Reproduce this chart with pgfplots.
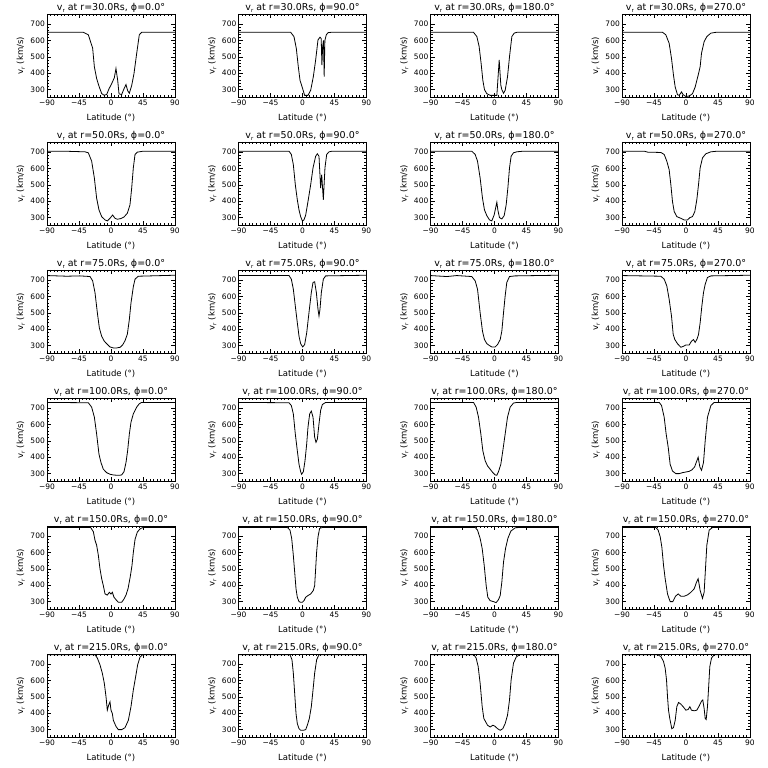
\documentclass[border=0pt]{standalone}
\usepackage{fontspec}
\setmainfont{DejaVu Sans}
\usepackage{pgfplots}
\pgfplotsset{compat=1.18}
\newcommand{\sub}[1]{\raisebox{-1.6pt}{\fontsize{5.5}{5.5}\selectfont #1}}
\pgfplotsset{panel/.style={
  scale only axis, width=128pt, height=83pt,
  xmin=-90,xmax=90,ymin=255,ymax=762,
  xtick={-90,-45,0,45,90}, xticklabels={−90,−45,0,45,90},
  ytick={300,400,500,600,700}, yticklabels={300,400,500,600,700},
  minor x tick num=8, minor y tick num=4,
  major tick length=4pt, minor tick length=2pt,
  every tick/.style={black, line width=0.6pt},
  axis line style={line width=0.8pt},
  tick label style={font=\fontsize{7.5}{7.5}\selectfont, inner sep=1pt},
  xticklabel style={yshift=-2pt},
  yticklabel style={xshift=-1pt},
  every axis title shift=0pt,
  title style={font=\fontsize{9.5}{9.5}\selectfont, at={(axis description cs:0.5,1.04)}, anchor=base, yshift=0pt, inner sep=0pt},
  xlabel={Latitude (°)}, ylabel={v\sub{r} (km/s)},
  label style={font=\fontsize{8.5}{8.5}\selectfont, inner sep=0pt},
  xlabel style={at={(axis description cs:0.5,-0.2)}, anchor=north},
  ylabel style={at={(axis description cs:-0.172,0.5)}, anchor=south},
}}
% #1 x, #2 y (top), #3 r, #4 phi, #5 coordinates
\newcommand{\panel}[5]{%
\begin{axis}[panel, at={(#1pt,#2pt)}, anchor=north west, title={v\sub{r} at r=#3Rs, ϕ=#4°}]
\addplot[black, line width=0.8pt, mark=none] coordinates {#5};
\end{axis}}
\begin{document}
\begin{tikzpicture}
\useasboundingbox (0pt,0pt) rectangle (768pt,768pt);
% ---------------- row 1: r=30
\panel{47}{754}{30.0}{0.0}{(-90,650)(-45,650)(-38.9,650)(-31.9,635)(-25.8,553)(-23.4,440)(-20.2,368)(-16.9,321)(-13.1,276)(-9.8,266)(-6.1,270)(-2.8,305)(0.9,336)(4.7,373)(7.0,429)(9.4,357)(11.3,274)(15,270)(18.3,305)(21.1,331)(23.4,294)(25.8,278)(29.1,325)(32.3,397)(36.1,520)(39.8,635)(43.1,650)(90,650)}
\panel{238.5}{754}{30.0}{90.0}{(-90,650)(-16.6,650)(-12,624)(-8.7,552)(-5.9,440)(-3.5,357)(-0.2,312)(3,265)(7.7,265)(11.5,296)(15.2,378)(18.5,481)(21.8,604)(24.6,620)(26.3,612)(27.3,450)(28.3,560)(29.5,600)(30.5,380)(31.5,600)(33.5,635)(36,648)(40,650)(90,650)}
\panel{430.5}{754}{30.0}{180.0}{(-90,650)(-29.5,650)(-24.8,624)(-21.6,563)(-18.8,460)(-16.4,357)(-14.1,300)(-10.8,275)(-6.1,265)(-1.4,265)(3.3,265)(6.6,481)(8.9,327)(10.3,300)(12.7,278)(15,296)(18.3,378)(21.1,501)(24.4,624)(27.7,645)(31.4,650)(90,650)}
\panel{622}{754}{30.0}{270.0}{(-90,650)(-33,650)(-28.4,635)(-23.7,583)(-20.4,491)(-17.6,388)(-15.2,316)(-12,269)(-9.6,265)(-6.3,286)(-4,269)(-0.2,258)(4.5,261)(9.1,275)(12.9,316)(17.1,388)(19.9,440)(21.8,522)(25.5,593)(29.3,624)(34.9,645)(42,650)(90,650)}
% ---------------- row 2: r=50
\panel{47}{626}{50.0}{0.0}{(-90,706)(-60,705)(-36.6,702)(-31.9,696)(-27.2,645)(-23.4,542)(-20.2,419)(-16.9,347)(-13.1,306)(-8.4,286)(-5.2,280)(-1.4,296)(2.3,316)(5.6,296)(8.9,290)(13.6,294)(18.3,304)(23,327)(26.7,378)(29.1,481)(31.4,604)(33.8,686)(37,700)(45.5,706)(90,706)}
\panel{238.5}{626}{50.0}{90.0}{(-90,706)(-19,706)(-15.7,686)(-12.9,624)(-10.1,501)(-7.3,409)(-4.9,347)(-2.6,306)(-0.2,280)(2.1,286)(4.5,316)(7.7,398)(11.5,501)(14.8,604)(18.5,675)(20.9,690)(23.2,675)(25.5,481)(27,563)(29.3,409)(31.6,604)(34,686)(37.3,702)(42,706)(90,706)}
\panel{430.5}{626}{50.0}{180.0}{(-90,706)(-32,706)(-27.2,686)(-23.9,645)(-20.2,542)(-16.9,419)(-14.1,347)(-10.8,312)(-7,286)(-3.8,280)(-0.5,316)(3.3,394)(4.7,347)(7,300)(10.3,292)(13.6,312)(16.4,378)(18.8,481)(21.1,604)(23.4,675)(26.7,696)(31.4,702)(40.8,706)(90,706)}
\panel{622}{626}{50.0}{270.0}{(-90,706)(-58.8,706)(-54,700)(-35.4,698)(-30.7,686)(-27,645)(-23.7,593)(-21.3,501)(-19,398)(-16.6,337)(-12.9,306)(-7.3,296)(-2.6,286)(2.1,286)(5.4,300)(9.1,306)(12.4,337)(15.2,409)(17.6,501)(19.9,604)(23.2,665)(27.9,690)(35,702)(44.3,706)(90,706)}
% ---------------- row 3: r=75
\panel{47}{498}{75.0}{0.0}{(-90,728)(-62,724)(-43.6,726)(-29.5,722)(-25.8,696)(-22.5,624)(-19.2,501)(-16.4,409)(-13.1,357)(-9.4,327)(-6.1,312)(-1.4,292)(3.3,286)(8,286)(13,290)(16.5,305)(19.7,330)(23,370)(25.8,460)(28.1,560)(31.4,660)(33.8,706)(38.4,724)(90,730)}
\panel{238.5}{498}{75.0}{90.0}{(-90,728)(-19,728)(-15.7,706)(-12.9,645)(-10.1,542)(-7.3,440)(-4.9,357)(-2.6,312)(0.2,292)(3,306)(5.9,378)(9.1,501)(12.4,624)(14.8,686)(17.1,690)(19.5,624)(21.8,522)(23.2,481)(24.6,522)(26.5,624)(29.3,706)(32.6,726)(90,730)}
\panel{430.5}{498}{75.0}{180.0}{(-90,728)(-67,722)(-53,728)(-32,722)(-27.2,696)(-23.9,645)(-20.2,501)(-16.9,388)(-14.1,337)(-10.8,312)(-7,300)(-3.8,292)(0.9,292)(4.2,306)(8,337)(10.3,388)(12.7,501)(15,604)(17.3,686)(21.1,722)(29,726)(90,730)}
\panel{622}{498}{75.0}{270.0}{(-90,728)(-35.4,724)(-30.7,706)(-27,665)(-23.7,583)(-20.4,481)(-18,368)(-15.7,337)(-12,312)(-7.3,290)(-3.5,296)(-0.2,304)(4.5,304)(7.7,327)(10.5,337)(12.9,320)(15.2,337)(17.6,368)(19.9,440)(22.3,542)(24.6,624)(27,675)(30.2,716)(35,726)(90,730)}
% ---------------- row 4: r=100
\panel{47}{370}{100.0}{0.0}{(-90,735)(-31.9,733)(-27.2,706)(-23.4,645)(-20.2,542)(-16.9,419)(-14.1,368)(-10.8,327)(-6.1,306)(-1.4,296)(3.3,292)(8,290)(12,290)(15,292)(18.3,312)(21.1,368)(23.4,440)(25.8,542)(28.1,614)(31.4,665)(36.1,706)(39.8,727)(43.1,735)(90,735)}
\panel{238.5}{370}{100.0}{90.0}{(-90,735)(-19,733)(-15.7,716)(-12.9,665)(-10.1,542)(-7.3,440)(-4.9,357)(-2.6,312)(-1.2,296)(1.2,312)(3.5,378)(5.9,481)(7.7,583)(10.1,665)(12.4,682)(14.8,645)(17.1,522)(19,491)(20.9,511)(23.2,604)(25.5,686)(27.9,722)(32.6,735)(90,735)}
\panel{430.5}{370}{100.0}{180.0}{(-90,735)(-29.5,735)(-25.8,706)(-22.5,645)(-19.2,542)(-16.4,440)(-13.1,378)(-9.8,347)(-6.1,327)(-2.3,306)(0.9,292)(3.3,290)(5.6,312)(8.9,357)(11.7,440)(15,542)(18.3,645)(22,706)(26.7,731)(31.4,735)(90,735)}
\panel{622}{370}{100.0}{270.0}{(-90,735)(-37.7,735)(-34.4,716)(-30.7,645)(-27.9,542)(-25,460)(-22.3,357)(-19,316)(-14.3,300)(-9.6,300)(-4.9,306)(-0.2,310)(4.5,314)(8,322)(12,340)(17.1,400)(19.5,340)(21.8,320)(24.6,368)(27,501)(30.2,645)(35,716)(39.6,735)(90,735)}
% ---------------- row 5: r=150
\panel{47}{242}{150.0}{0.0}{(-90,753)(-28.6,753)(-24.8,727)(-22.5,675)(-20.2,645)(-17.8,583)(-15.5,501)(-13.1,440)(-10.8,398)(-8.4,347)(-5.2,340)(-2.3,357)(0,347)(1.9,357)(4.2,327)(7,312)(10.3,296)(15,296)(18.3,316)(21.1,340)(24,380)(27,450)(29.5,520)(31.4,600)(33.8,680)(37,725)(41,745)(45,753)(90,753)}
\panel{238.5}{242}{150.0}{90.0}{(-90,753)(-21.3,753)(-17.6,737)(-15.2,686)(-12.9,583)(-11,481)(-9.1,378)(-7.3,327)(-4.9,300)(-2.6,296)(-0.2,296)(2.1,306)(4.5,327)(7.7,337)(11.5,347)(15.2,368)(17.1,398)(18.5,501)(19.9,604)(21.8,696)(24.1,747)(27.9,753)(90,753)}
\panel{430.5}{242}{150.0}{180.0}{(-90,753)(-27.2,753)(-23.9,737)(-20.2,686)(-17.3,624)(-14.5,522)(-11.7,398)(-9.4,327)(-6.1,306)(-1.4,300)(2.3,294)(5.6,312)(8,337)(10.3,419)(12.7,542)(15.5,624)(18.8,686)(23,731)(29.1,751)(35,753)(90,753)}
\panel{622}{242}{150.0}{270.0}{(-90,753)(-42.4,753)(-39.2,737)(-36.3,696)(-34,634)(-31.6,522)(-29.3,440)(-26,347)(-22.3,300)(-18.5,300)(-14.8,333)(-11,347)(-7.3,333)(-2.6,333)(2.1,341)(6.8,357)(11.5,378)(14.8,419)(17.1,440)(19.9,368)(23.2,320)(25.5,357)(27.4,501)(29.3,645)(32.6,737)(37.3,753)(90,753)}
% ---------------- row 6: r=215
\panel{47}{114}{215.0}{0.0}{(-90,758)(-22.5,758)(-19.2,737)(-15.5,696)(-12.2,645)(-9.4,583)(-7,501)(-5.2,419)(-3.3,450)(-1.4,470)(0,419)(1.9,398)(3.3,357)(7,320)(10.3,300)(15,300)(19.7,312)(24.4,357)(28.1,440)(31.4,542)(34.7,624)(37.5,696)(40.8,743)(44.5,758)(90,758)}
\panel{238.5}{114}{215.0}{90.0}{(-90,758)(-17.6,758)(-14.8,727)(-12.9,645)(-11,522)(-9.1,398)(-7.3,337)(-4.9,306)(-2.6,296)(1.2,296)(4.5,300)(6.8,327)(9.6,368)(12.4,440)(14.8,542)(17.1,645)(19.9,727)(23.2,758)(90,758)}
\panel{430.5}{114}{215.0}{180.0}{(-90,758)(-29,758)(-25.8,737)(-23,686)(-20.2,583)(-17.3,440)(-15,368)(-9.8,327)(-6.1,316)(-2.3,327)(0.9,320)(4.2,306)(8,296)(11.7,306)(15,337)(18.3,388)(21.1,481)(23.4,604)(26.7,706)(30.5,743)(35.2,758)(90,758)}
\panel{622}{114}{215.0}{270.0}{(-90,758)(-40,758)(-35.4,747)(-31.6,716)(-29.3,675)(-27.4,604)(-26,501)(-24.6,419)(-22.8,368)(-20,306)(-17.6,312)(-15.2,357)(-12.9,440)(-10.5,466)(-7.3,456)(-4,440)(-0.2,419)(3,423)(5.4,440)(7.7,419)(11.5,415)(15.2,419)(18.5,444)(21.8,474)(23.6,481)(25.5,429)(27,368)(28.4,362)(30.2,440)(31.6,542)(33.5,686)(35.9,737)(39.6,758)(90,758)}
\end{tikzpicture}
\end{document}
